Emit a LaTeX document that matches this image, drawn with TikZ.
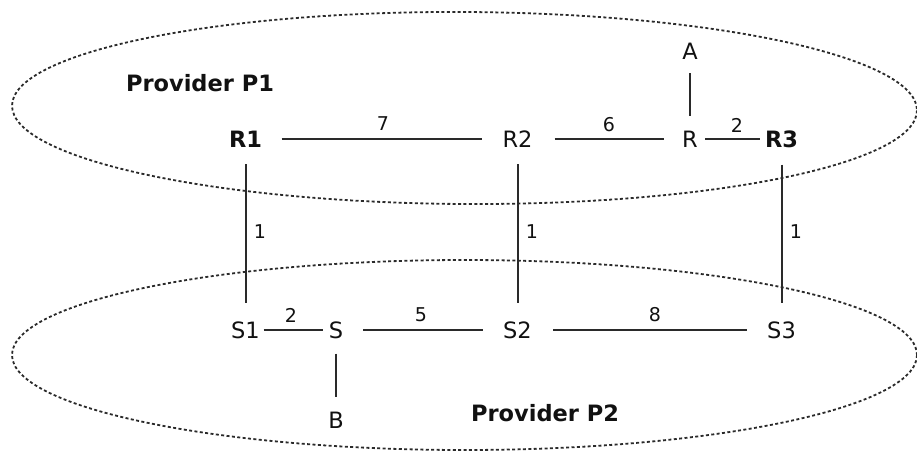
\documentclass[tikz,border=0pt]{standalone}
\usepackage{fontspec}
\setmainfont{DejaVu Sans}
\definecolor{linec}{HTML}{2A2A2A}
\definecolor{textc}{HTML}{111111}
\tikzset{
  nd/.style={inner sep=0pt, text=textc, font=\fontsize{22.5}{26}\selectfont},
  ndb/.style={nd, font=\fontsize{22.5}{26}\selectfont\bfseries},
  lab/.style={inner sep=0pt, text=textc, font=\fontsize{19}{22}\selectfont},
  link/.style={draw=linec, line width=2pt},
  region/.style={draw=linec, line width=1.8pt, dash pattern=on 3pt off 2.4pt}
}
\begin{document}
\begin{tikzpicture}[x=1pt, y=-1pt]
\useasboundingbox (0,0) rectangle (917,450);
% regions
\draw[region, rotate around={-0.3:(464.5,108)}] (464.5,108) ellipse [x radius=452.5, y radius=96];
\draw[region] (464.5,355) ellipse [x radius=452.5, y radius=95];
% titles
\node[ndb] (P1) at (200,83) {Provider P1};
\node[ndb] (P2) at (545,413.5) {Provider P2};
% nodes
\node[ndb] (R1) at (245.5,139) {R1};
\node[nd]  (R2) at (517.5,139) {R2};
\node[nd]  (R)  at (690,139) {R};
\node[ndb] (R3) at (781.5,139) {R3};
\node[nd]  (A)  at (690,51) {A};
\node[nd]  (S1) at (245.5,330) {S1};
\node[nd]  (S)  at (336,330) {S};
\node[nd]  (S2) at (517.5,330) {S2};
\node[nd]  (S3) at (781.5,330) {S3};
\node[nd]  (B)  at (336,420) {B};
% links
\draw[link, shorten <=19.5pt, shorten >=20pt] (R1) -- (R2);
\draw[link, shorten <=22pt, shorten >=18pt] (R2) -- (R);
\draw[link, shorten <=7pt, shorten >=4.5pt] (R) -- (R3);
\draw[link, shorten <=14pt, shorten >=14.8pt] (A) -- (R);
\draw[link, shorten <=16.8pt, shorten >=17.8pt] (R1) -- (S1);
\draw[link, shorten <=16.8pt, shorten >=17.8pt] (R2) -- (S2);
\draw[link, shorten <=16.8pt, shorten >=17.8pt] (R3) -- (S3);
\draw[link, shorten <=3.7pt, shorten >=5.9pt] (S1) -- (S);
\draw[link, shorten <=19.9pt, shorten >=20.2pt] (S) -- (S2);
\draw[link, shorten <=21.2pt, shorten >=20.2pt] (S2) -- (S3);
\draw[link, shorten <=14.8pt, shorten >=14.8pt] (S) -- (B);
% link labels
\node[lab] (l7) at (383,124) {7};
\node[lab] (l6) at (609,125) {6};
\node[lab] (l2a) at (737,125) {2};
\node[lab] (l1a) at (260,232) {1};
\node[lab] (l1b) at (532,232) {1};
\node[lab] (l1c) at (796,232) {1};
\node[lab] (l2b) at (291,315.5) {2};
\node[lab] (l5) at (421,315) {5};
\node[lab] (l8) at (655,315) {8};
\end{tikzpicture}
\end{document}
